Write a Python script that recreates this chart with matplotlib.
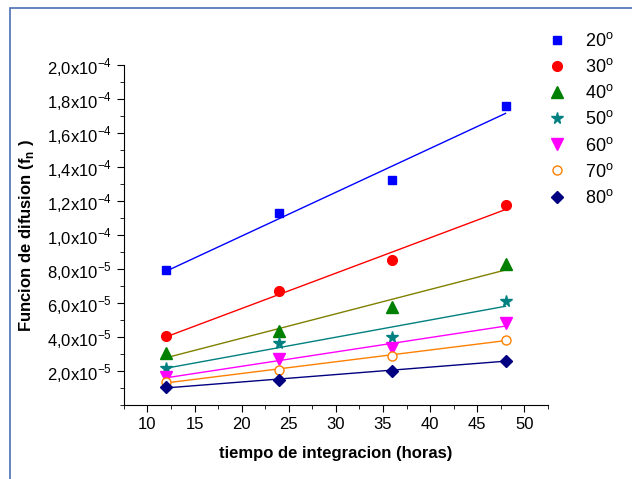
import numpy as np
import matplotlib
matplotlib.use('Agg')
import matplotlib.pyplot as plt
from matplotlib.ticker import MultipleLocator, FuncFormatter
from matplotlib.patches import Rectangle

plt.rcParams['font.family'] = ['Liberation Sans', 'DejaVu Sans']

# datos
horas = [12, 24, 36, 48]
etiquetas = ['20$^{\\mathregular{o}}$', '30$^{\\mathregular{o}}$', '40$^{\\mathregular{o}}$',
             '50$^{\\mathregular{o}}$', '60$^{\\mathregular{o}}$', '70$^{\\mathregular{o}}$',
             '80$^{\\mathregular{o}}$']
f20 = [7.94e-5, 1.132e-4, 1.323e-4, 1.761e-4]
f30 = [4.05e-5, 6.73e-5, 8.52e-5, 1.177e-4]
f40 = [3.07e-5, 4.34e-5, 5.76e-5, 8.33e-5]
f50 = [2.20e-5, 3.66e-5, 4.01e-5, 6.13e-5]
f60 = [1.65e-5, 2.72e-5, 3.35e-5, 4.82e-5]
f70 = [1.36e-5, 2.10e-5, 2.92e-5, 3.85e-5]
f80 = [1.07e-5, 1.48e-5, 2.04e-5, 2.63e-5]
series = [f20, f30, f40, f50, f60, f70, f80]

# estilos
marcas = ['s', 'o', '^', '*', 'v', 'o', 'D']
col_marca = ['#0000ff', '#ff0000', '#008000', '#008080', '#ff00ff', '#ff8000', '#000080']
col_linea = ['#0000ff', '#ff0000', '#808000', '#008080', '#ff00ff', '#ff8000', '#000080']
tam = [6, 7, 8, 8.5, 8, 6.5, 6.5]

fig = plt.figure(figsize=(6.32, 4.79), dpi=100)
ax = fig.add_axes([0.196, 0.154, 0.671, 0.71])

x = np.array(horas)
for ys, et, m, cm, cl, s in zip(series, etiquetas, marcas, col_marca, col_linea, tam):
    a, b = np.polyfit(x, ys, 1)
    ax.plot(x, a * x + b, color=cl, lw=1)
    if m == 'o' and cm == '#ff8000':
        ax.plot(x, ys, ls='none', marker=m, ms=s, mfc='white', mec=cm, mew=1, label=et)
    else:
        ax.plot(x, ys, ls='none', marker=m, ms=s, color=cm, label=et)

ax.set_xlim(7.5, 52.5)
ax.set_ylim(0, 2e-4)
ax.xaxis.set_major_locator(MultipleLocator(5))
ax.xaxis.set_minor_locator(MultipleLocator(2.5))
ax.set_yticks(np.arange(2e-5, 2.01e-4, 2e-5))
ax.yaxis.set_minor_locator(MultipleLocator(1e-5))


def fmt(v, pos):
    e = int(np.floor(np.log10(v) + 1e-9))
    m = v / 10 ** e
    return ('%.1f' % m).replace('.', ',') + 'x10$^{\\mathregular{%d}}$' % e


ax.yaxis.set_major_formatter(FuncFormatter(fmt))
ax.spines['top'].set_visible(False)
ax.spines['right'].set_visible(False)
ax.tick_params(which='major', direction='out', length=5, labelsize=12)
ax.tick_params(which='minor', direction='out', length=3)

ax.set_xlabel('tiempo de integracion (horas)', fontsize=12, fontweight='bold', labelpad=10)
ax.set_ylabel('Funcion de difusion (f$_{\\mathregular{n}}$ )', fontsize=12, fontweight='bold', labelpad=8)

ax.legend(loc='upper left', bbox_to_anchor=(0.95, 1.145), frameon=False, fontsize=13,
          handletextpad=0.8, labelspacing=0.45, handlelength=1.5)

# marco azul de la figura
fig.patches.append(Rectangle((10 / 632, -0.1), 1.2, 1 - 8 / 479 + 0.1, transform=fig.transFigure,
                             fill=False, ec='#4a6fb5', lw=1.2))

fig.savefig('out.png', dpi=100)
